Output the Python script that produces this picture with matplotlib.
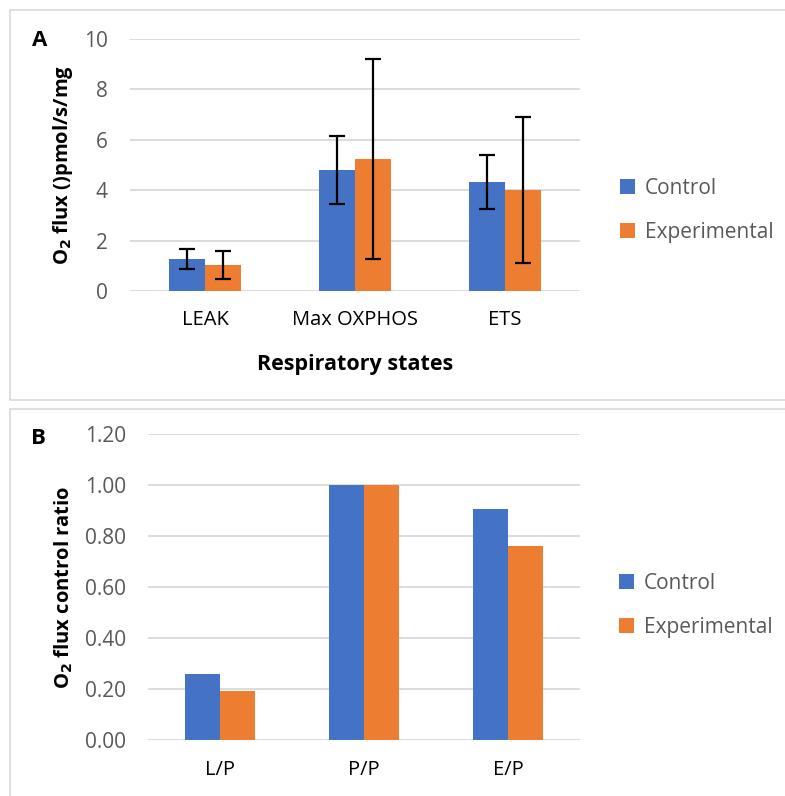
import matplotlib.pyplot as plt
import numpy as np
from matplotlib.patches import Rectangle

states = ['LEAK', 'Max OXPHOS', 'ETS']
control_flux = [1.26, 4.79, 4.31]
control_err = [0.40, 1.35, 1.07]
exp_flux = [1.02, 5.24, 4.00]
exp_err = [0.55, 3.95, 2.90]

ratios = ['L/P', 'P/P', 'E/P']
control_ratio = [0.26, 1.00, 0.904]
exp_ratio = [0.193, 1.00, 0.762]

blue = '#4472C4'
orange = '#ED7D31'
grid_c = '#D9D9D9'
tick_c = '#595959'

plt.rcParams['font.family'] = ['Open Sans', 'DejaVu Sans']

fig = plt.figure(figsize=(7.85, 7.96), dpi=100)

# chart frames like Excel chart areas
fig.patches.append(Rectangle((10 / 785, 1 - 400 / 796), 1.0, 390 / 796, transform=fig.transFigure,
                             fill=False, edgecolor=grid_c, lw=1.2))
fig.patches.append(Rectangle((10 / 785, -0.01), 1.0, (796 - 409) / 796 + 0.01, transform=fig.transFigure,
                             fill=False, edgecolor=grid_c, lw=1.2))


def style(ax, ymax, step, fmt):
    for s in ['top', 'right', 'left', 'bottom']:
        ax.spines[s].set_visible(False)
    ax.set_ylim(0, ymax)
    ticks = np.arange(0, ymax + step / 2, step)
    ax.set_yticks(ticks)
    ax.set_yticklabels([fmt.format(t) for t in ticks], color=tick_c, fontsize=15)
    ax.yaxis.grid(True, color=grid_c, lw=1.3)
    ax.set_axisbelow(True)
    ax.tick_params(axis='both', length=0)
    ax.tick_params(axis='y', pad=16)
    ax.tick_params(axis='x', pad=14, labelsize=14.5)
    ax.set_xlim(-0.5, 2.5)


def legend(ax, y):
    ax.legend(loc='center left', bbox_to_anchor=(1.07, y), frameon=False, fontsize=15,
              handlelength=0.75, handleheight=0.75, labelspacing=1.1, handletextpad=0.45,
              labelcolor=tick_c, borderaxespad=0)


w = 0.24
x = np.arange(len(states))

axA = fig.add_axes([0.1656, 0.6344, 0.5733, 0.3166])
axA.bar(x - w / 2, control_flux, w, color=blue, label='Control')
axA.bar(x + w / 2, exp_flux, w, color=orange, label='Experimental')
axA.errorbar(x - w / 2, control_flux, yerr=control_err, fmt='none', ecolor='black', elinewidth=1.6, capsize=6, capthick=1.6)
axA.errorbar(x + w / 2, exp_flux, yerr=exp_err, fmt='none', ecolor='black', elinewidth=1.6, capsize=6, capthick=1.6)
style(axA, 10, 2, '{:.0f}')
axA.set_xticks(x)
axA.set_xticklabels(states)
axA.set_xlabel('Respiratory states', fontsize=15.5, fontweight='bold', labelpad=17)
axA.set_ylabel('O$_\\mathbf{2}$ flux ()pmol/s/mg', fontsize=14.5, fontweight='bold')
axA.yaxis.set_label_coords(-0.122, 0.5)
legend(axA, 0.32)
fig.text(40 / 785, 1 - 40 / 796, 'A', fontsize=16, fontweight='bold', va='center', ha='center')

axB = fig.add_axes([0.1885, 0.0700, 0.5503, 0.3852])
axB.bar(x - w / 2, control_ratio, w, color=blue, label='Control')
axB.bar(x + w / 2, exp_ratio, w, color=orange, label='Experimental')
style(axB, 1.2, 0.2, '{:.2f}')
axB.set_xticks(x)
axB.set_xticklabels(ratios)
axB.set_ylabel('O$_\\mathbf{2}$ flux control ratio', fontsize=14.5, fontweight='bold')
axB.yaxis.set_label_coords(-0.169, 0.5)
legend(axB, 0.44)
fig.text(38 / 785, 1 - 438 / 796, 'B', fontsize=16, fontweight='bold', va='center', ha='center')

fig.savefig('out.png', dpi=100)
